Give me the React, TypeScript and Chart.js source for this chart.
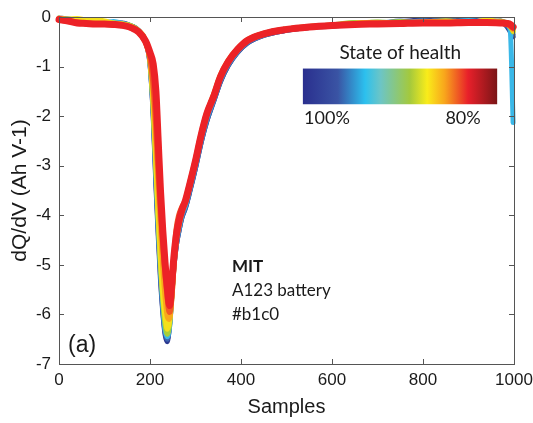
import React, { useEffect, useRef } from "react";
import { Chart, registerables } from "chart.js";

Chart.register(...registerables);

// Sample positions shared by every cycle curve
const SAMPLES = [0, 20, 40, 60, 80, 100, 120, 140, 160, 175, 190, 200, 207, 213, 218, 223, 228, 233, 238, 243, 248, 253, 258, 264, 270, 278, 288, 300, 312, 325, 340, 355, 372, 392, 415, 450, 500, 550, 600, 650, 700, 750, 800, 850, 900, 940, 970, 985, 992, 998];

// dQ/dV curves (Ah V-1), from 100% state of health to 80%
const SOH100 = [-0.02, -0.04, -0.07, -0.09, -0.08, -0.1, -0.11, -0.13, -0.18, -0.27, -0.5, -0.95, -2.0, -3.4, -4.4, -5.3, -5.95, -6.4, -6.55, -6.2, -5.6, -5.0, -4.6, -4.3, -4.05, -3.85, -3.5, -3.05, -2.55, -2.1, -1.7, -1.3, -0.98, -0.72, -0.52, -0.37, -0.27, -0.21, -0.18, -0.15, -0.12, -0.1, -0.06, -0.09, -0.05, -0.1, -0.08, -0.2, -0.3, -0.4];
const SOH97 = [-0.03, -0.05, -0.08, -0.1, -0.06, -0.11, -0.12, -0.12, -0.19, -0.28, -0.5, -0.95, -1.95, -3.3, -4.3, -5.2, -5.9, -6.35, -6.5, -6.25, -5.6, -5.0, -4.6, -4.3, -4.05, -3.85, -3.5, -3.05, -2.55, -2.1, -1.7, -1.3, -0.98, -0.72, -0.52, -0.37, -0.27, -0.21, -0.18, -0.12, -0.13, -0.08, -0.1, -0.05, -0.12, -0.07, -0.1, -0.18, -0.25, -0.35];
const SOH94 = [-0.04, -0.06, -0.09, -0.1, -0.1, -0.12, -0.09, -0.13, -0.19, -0.28, -0.48, -0.92, -1.9, -3.2, -4.2, -5.1, -5.8, -6.3, -6.45, -6.25, -5.65, -4.95, -4.55, -4.25, -4.0, -3.8, -3.45, -3.0, -2.5, -2.05, -1.66, -1.26, -0.95, -0.7, -0.5, -0.36, -0.26, -0.2, -0.17, -0.14, -0.1, -0.12, -0.08, -0.11, -0.07, -0.1, -0.09, -0.12, -0.3, -2.13];
const SOH91 = [-0.03, -0.05, -0.06, -0.1, -0.09, -0.11, -0.12, -0.14, -0.18, -0.27, -0.47, -0.9, -1.85, -3.1, -4.1, -5.0, -5.7, -6.2, -6.4, -6.2, -5.6, -4.9, -4.45, -4.15, -3.9, -3.7, -3.35, -2.9, -2.4, -1.95, -1.57, -1.18, -0.88, -0.65, -0.46, -0.33, -0.24, -0.19, -0.16, -0.11, -0.13, -0.09, -0.12, -0.08, -0.1, -0.12, -0.08, -0.13, -0.2, -0.3];
const SOH88 = [-0.02, -0.04, -0.03, -0.06, -0.05, -0.08, -0.12, -0.14, -0.19, -0.28, -0.47, -0.9, -1.8, -3.0, -4.0, -4.9, -5.6, -6.05, -6.3, -6.15, -5.6, -4.9, -4.45, -4.15, -3.9, -3.7, -3.35, -2.88, -2.38, -1.93, -1.55, -1.16, -0.87, -0.64, -0.45, -0.33, -0.24, -0.19, -0.16, -0.13, -0.1, -0.12, -0.1, -0.08, -0.12, -0.06, -0.1, -0.14, -0.2, -0.28];
const SOH85 = [-0.04, -0.07, -0.1, -0.12, -0.13, -0.13, -0.14, -0.17, -0.21, -0.3, -0.5, -0.88, -1.6, -2.6, -3.5, -4.3, -5.05, -5.65, -6.05, -6.1, -5.7, -5.0, -4.5, -4.2, -3.95, -3.75, -3.4, -2.93, -2.42, -1.97, -1.6, -1.2, -0.9, -0.66, -0.47, -0.34, -0.25, -0.2, -0.17, -0.13, -0.11, -0.14, -0.1, -0.13, -0.09, -0.12, -0.11, -0.15, -0.2, -0.26];
const SOH82 = [-0.05, -0.08, -0.11, -0.13, -0.14, -0.14, -0.15, -0.17, -0.22, -0.3, -0.5, -0.8, -1.3, -2.1, -3.0, -3.8, -4.5, -5.1, -5.6, -5.95, -5.55, -4.85, -4.3, -4.0, -3.85, -3.7, -3.35, -2.9, -2.4, -1.95, -1.6, -1.2, -0.9, -0.66, -0.47, -0.34, -0.25, -0.2, -0.17, -0.14, -0.13, -0.12, -0.11, -0.12, -0.1, -0.11, -0.12, -0.14, -0.18, -0.22];
const SOH80 = [-0.05, -0.08, -0.12, -0.13, -0.14, -0.14, -0.15, -0.17, -0.22, -0.3, -0.48, -0.72, -0.95, -1.5, -2.5, -3.5, -4.3, -4.95, -5.45, -5.82, -5.35, -4.8, -4.4, -4.1, -3.9, -3.7, -3.35, -2.9, -2.4, -1.95, -1.6, -1.2, -0.9, -0.66, -0.47, -0.34, -0.25, -0.2, -0.17, -0.15, -0.14, -0.13, -0.12, -0.12, -0.11, -0.11, -0.12, -0.13, -0.15, -0.2];

const SERIES = [SOH100, SOH97, SOH94, SOH91, SOH88, SOH85, SOH82, SOH80];
const SERIES_LABELS = ["100%", "97%", "94%", "91%", "88%", "85%", "82%", "80%"];
const SERIES_COLORS = ["#2b3990", "#3c64b1", "#3ab8e8", "#a6ce39", "#f4e01b", "#f8a81c", "#f15a24", "#ec2227"];
const SERIES_WIDTHS = [5, 5, 5, 5, 5, 5, 6, 7];

const X_TICKS = [0, 200, 400, 600, 800, 1000];
const Y_TICKS = [0, -1, -2, -3, -4, -5, -6, -7];

const COLORBAR_TITLE = "State of health";
const COLORBAR_LEFT_LABEL = "100%";
const COLORBAR_RIGHT_LABEL = "80%";
const COLORBAR_STOPS = [
  [0, "#2a2f8e"],
  [0.18, "#3a54a4"],
  [0.32, "#2cc0ee"],
  [0.4, "#6cc5c6"],
  [0.55, "#a4c93d"],
  [0.64, "#f9ec1a"],
  [0.73, "#f8a51c"],
  [0.85, "#e8202a"],
  [1, "#7a1517"],
];

const NOTE_TITLE = "MIT";
const NOTE_LINES = ["A123 battery", "#b1c0"];
const PANEL_LABEL = "(a)";

const AXIS_COLOR = "#555555";
const TEXT_COLOR = "#1a1a1a";
const AXIS_FONT = "'Liberation Sans', Arial, sans-serif";
const NOTE_FONT = "Lato, 'Open Sans', sans-serif";

const framePlugin = {
  id: "frame",
  afterDraw(chart: any) {
    const { ctx, chartArea, scales } = chart;
    const xs = scales.x;
    const ys = scales.y;
    const { left, right, top, bottom } = chartArea;
    ctx.save();
    ctx.strokeStyle = AXIS_COLOR;
    ctx.lineWidth = 1;
    ctx.strokeRect(Math.round(left) + 0.5, Math.round(top) + 0.5, Math.round(right - left), Math.round(bottom - top));
    const tl = 5;
    ctx.beginPath();
    X_TICKS.forEach((v) => {
      const px = Math.round(xs.getPixelForValue(v)) + 0.5;
      ctx.moveTo(px, bottom);
      ctx.lineTo(px, bottom - tl);
      ctx.moveTo(px, top);
      ctx.lineTo(px, top + tl);
    });
    Y_TICKS.forEach((v) => {
      const py = Math.round(ys.getPixelForValue(v)) + 0.5;
      ctx.moveTo(left, py);
      ctx.lineTo(left + tl, py);
      ctx.moveTo(right, py);
      ctx.lineTo(right - tl, py);
    });
    ctx.stroke();

    // colour bar legend (placed in data coordinates)
    const cbL = xs.getPixelForValue(536);
    const cbR = xs.getPixelForValue(963);
    const cbT = ys.getPixelForValue(-1.04);
    const cbB = ys.getPixelForValue(-1.76);
    const grad = ctx.createLinearGradient(cbL, 0, cbR, 0);
    COLORBAR_STOPS.forEach(([o, c]) => grad.addColorStop(o as number, c as string));
    ctx.fillStyle = grad;
    ctx.fillRect(cbL, cbT, cbR - cbL, cbB - cbT);

    ctx.fillStyle = TEXT_COLOR;
    ctx.textBaseline = "middle";
    ctx.font = `19px ${NOTE_FONT}`;
    ctx.textAlign = "center";
    ctx.fillText(COLORBAR_TITLE, xs.getPixelForValue(750), ys.getPixelForValue(-0.72));
    ctx.font = `18px ${NOTE_FONT}`;
    ctx.fillText(COLORBAR_LEFT_LABEL, xs.getPixelForValue(589), ys.getPixelForValue(-2.04));
    ctx.fillText(COLORBAR_RIGHT_LABEL, xs.getPixelForValue(888), ys.getPixelForValue(-2.04));

    ctx.textAlign = "left";
    ctx.font = `bold 17px ${NOTE_FONT}`;
    ctx.fillText(NOTE_TITLE, xs.getPixelForValue(380), ys.getPixelForValue(-5.04));
    ctx.font = `17px ${NOTE_FONT}`;
    ctx.fillText(NOTE_LINES[0], xs.getPixelForValue(380), ys.getPixelForValue(-5.52));
    ctx.fillText(NOTE_LINES[1], xs.getPixelForValue(380), ys.getPixelForValue(-6.0));

    ctx.font = `23px ${AXIS_FONT}`;
    ctx.fillText(PANEL_LABEL, xs.getPixelForValue(20), ys.getPixelForValue(-6.62));
    ctx.restore();
  },
};

export default function App() {
  const canvasRef = useRef<HTMLCanvasElement | null>(null);

  useEffect(() => {
    document.body.style.margin = "0";
    const canvas = canvasRef.current;
    if (!canvas) return;
    const datasets = SERIES.map((vals, i) => ({
      label: SERIES_LABELS[i],
      data: SAMPLES.map((x, j) => ({ x, y: vals[j] })),
      borderColor: SERIES_COLORS[i],
      backgroundColor: SERIES_COLORS[i],
      borderWidth: SERIES_WIDTHS[i],
      pointRadius: 0,
      fill: false,
      order: SERIES.length - i,
      cubicInterpolationMode: "monotone" as const,
      borderCapStyle: "round" as const,
      borderJoinStyle: "round" as const,
      clip: 8,
    }));

    const chart = new Chart(canvas, {
      type: "line",
      data: { datasets },
      plugins: [framePlugin],
      options: {
        animation: false,
        responsive: true,
        maintainAspectRatio: false,
        layout: { autoPadding: false, padding: { top: 17, right: 19, left: 0, bottom: 0 } },
        plugins: { legend: { display: false }, tooltip: { enabled: false } },
        scales: {
          x: {
            type: "linear",
            min: 0,
            max: 1000,
            afterBuildTicks: (s: any) => {
              s.ticks = X_TICKS.map((v) => ({ value: v }));
            },
            afterFit: (s: any) => {
              s.height = 59;
              s.paddingLeft = 0;
              s.paddingRight = 0;
            },
            grid: { display: false, drawTicks: false },
            border: { display: false },
            ticks: {
              color: TEXT_COLOR,
              font: { family: AXIS_FONT, size: 17 },
              padding: 6,
              maxRotation: 0,
              callback: (v: any) => String(v),
            },
            title: {
              display: true,
              text: "Samples",
              color: TEXT_COLOR,
              font: { family: AXIS_FONT, size: 20 },
              padding: { top: 0, bottom: 4 },
            },
          },
          y: {
            type: "linear",
            min: -7,
            max: 0,
            afterBuildTicks: (s: any) => {
              s.ticks = Y_TICKS.slice().reverse().map((v) => ({ value: v }));
            },
            afterFit: (s: any) => {
              s.width = 59;
              s.paddingTop = 0;
              s.paddingBottom = 0;
            },
            grid: { display: false, drawTicks: false },
            border: { display: false },
            ticks: {
              color: TEXT_COLOR,
              font: { family: AXIS_FONT, size: 17 },
              padding: 8,
              callback: (v: any) => String(v),
            },
            title: {
              display: true,
              text: "dQ/dV (Ah V-1)",
              color: TEXT_COLOR,
              font: { family: AXIS_FONT, size: 21 },
              padding: { top: 8, bottom: 0 },
            },
          },
        },
      },
    });
    return () => chart.destroy();
  }, []);

  return (
    <div style={{ width: 533, height: 423, position: "relative" }}>
      <canvas ref={canvasRef} />
    </div>
  );
}
